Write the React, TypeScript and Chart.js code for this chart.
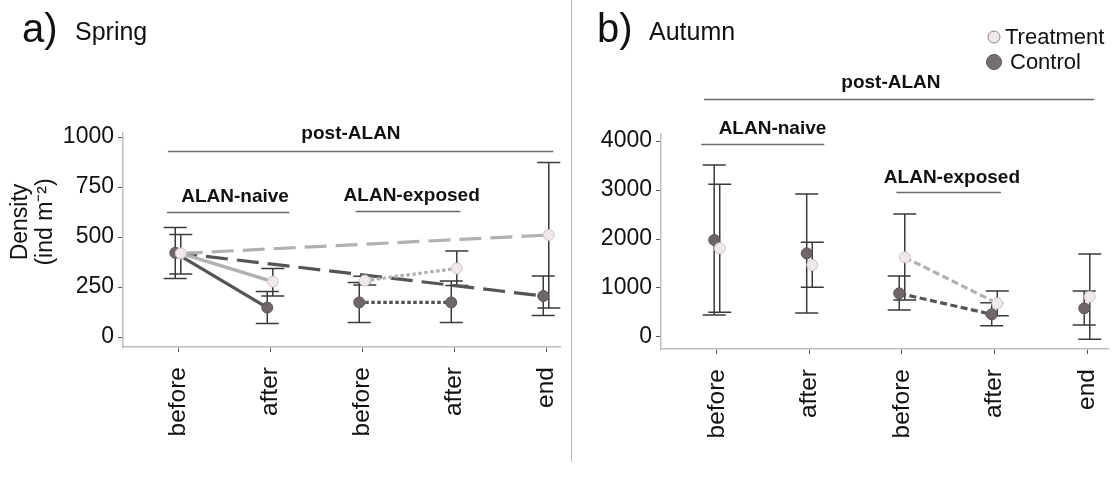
import React, { useEffect, useRef } from 'react';
import { Chart, registerables } from 'chart.js';

Chart.register(...registerables);

// ---------- data ----------
const categories = ['before', 'after', 'before', 'after', 'end'];

const springTreatMean = [418, 277, 282, 343, 510];
const springTreatLow = [315, 205, 260, 258, 145];
const springTreatHigh = [513, 343, 304, 430, 873];
const springCtrlMean = [421, 147, 173, 173, 205];
const springCtrlLow = [293, 67, 72, 72, 107];
const springCtrlHigh = [548, 227, 273, 280, 305];
const springYTicks = [0, 250, 500, 750, 1000];

const autumnTreatMean = [1810, 1469, 1626, 687, 823];
const autumnTreatLow = [504, 1014, 755, 435, -48];
const autumnTreatHigh = [3116, 1932, 2510, 939, 1694];
const autumnCtrlMean = [1980, 1707, 891, 463, 585];
const autumnCtrlLow = [449, 490, 551, 231, 245];
const autumnCtrlHigh = [3510, 2918, 1245, 700, 939];
const autumnYTicks = [0, 1000, 2000, 3000, 4000];

// connections between time points: [from, to, style]
const springLinks: [number, number, string][] = [[0, 1, 'solid'], [0, 4, 'long'], [2, 3, 'dot']];
const autumnLinks: [number, number, string][] = [[2, 3, 'dash']];

// ---------- styles ----------
const FONT = "'Liberation Sans', Arial, sans-serif";
const H = 489;
const DODGE_T = 0.03;
const DODGE_C = -0.03;
const DASH: Record<string, number[]> = { solid: [], long: [22, 9], dot: [3.5, 2.5], dash: [7, 3.5] };
const LIGHT_LINE = '#b1b1b1';
const DARK_LINE = '#555555';
const TREAT_FILL = '#f1e9e9';
const TREAT_BORDER = '#cfc4c4';
const CTRL_FILL = '#6f6767';
const CTRL_BORDER = '#5a5353';
const ERR_COLOR = '#3a3a3a';

type Annot = { text: string; tx: number; ty: number; x0: number; x1: number; ly: number };

type Panel = {
  treatMean: number[]; treatLow: number[]; treatHigh: number[];
  ctrlMean: number[]; ctrlLow: number[]; ctrlHigh: number[];
  yTicks: number[]; yMin: number; yMax: number; xMin: number; xMax: number;
  links: [number, number, string][];
  annots: Annot[];
  area: { left: number; right: number; top: number; bottom: number };
  width: number;
  extras: (ctx: CanvasRenderingContext2D) => void;
};

function drawCircle(ctx: CanvasRenderingContext2D, x: number, y: number, r: number, fill: string, stroke: string) {
  ctx.beginPath();
  ctx.arc(x, y, r, 0, Math.PI * 2);
  ctx.fillStyle = fill;
  ctx.fill();
  ctx.lineWidth = 1;
  ctx.strokeStyle = stroke;
  ctx.stroke();
}

const spring: Panel = {
  treatMean: springTreatMean, treatLow: springTreatLow, treatHigh: springTreatHigh,
  ctrlMean: springCtrlMean, ctrlLow: springCtrlLow, ctrlHigh: springCtrlHigh,
  yTicks: springYTicks, yMin: -50, yMax: 1020, xMin: -0.598, xMax: 4.152,
  links: springLinks,
  annots: [
    { text: 'post-ALAN', tx: 1.88, ty: 1015, x0: -0.11, x1: 4.08, ly: 932 },
    { text: 'ALAN-naive', tx: 0.62, ty: 702, x0: -0.12, x1: 1.21, ly: 625 },
    { text: 'ALAN-exposed', tx: 2.54, ty: 705, x0: 1.93, x1: 3.07, ly: 628 },
  ],
  area: { left: 123, right: 560, top: 133, bottom: 347 },
  width: 571,
  extras: (ctx) => {
    ctx.fillStyle = '#111';
    ctx.textAlign = 'left';
    ctx.textBaseline = 'alphabetic';
    ctx.font = `40px ${FONT}`;
    ctx.fillText('a)', 22, 42);
    ctx.font = `25px ${FONT}`;
    ctx.fillText('Spring', 75, 40);
    // y axis title
    ctx.save();
    ctx.translate(21, 222);
    ctx.rotate(-Math.PI / 2);
    ctx.textAlign = 'center';
    ctx.textBaseline = 'middle';
    ctx.font = `23px ${FONT}`;
    ctx.fillText('Density', 0, 0);
    ctx.fillText('(ind m\u207B\u00B2)', 0, 24.5);
    ctx.restore();
  },
};

const autumn: Panel = {
  treatMean: autumnTreatMean, treatLow: autumnTreatLow, treatHigh: autumnTreatHigh,
  ctrlMean: autumnCtrlMean, ctrlLow: autumnCtrlLow, ctrlHigh: autumnCtrlHigh,
  yTicks: autumnYTicks, yMin: -245, yMax: 4143, xMin: -0.605, xMax: 4.227,
  links: autumnLinks,
  annots: [
    { text: 'post-ALAN', tx: 1.88, ty: 5194, x0: -0.14, x1: 4.08, ly: 4851 },
    { text: 'ALAN-naive', tx: 0.6, ty: 4245, x0: -0.17, x1: 1.16, ly: 3933 },
    { text: 'ALAN-exposed', tx: 2.54, ty: 3245, x0: 1.94, x1: 3.07, ly: 2953 },
  ],
  area: { left: 89, right: 536, top: 134, bottom: 349 },
  width: 545,
  extras: (ctx) => {
    ctx.fillStyle = '#111';
    ctx.textAlign = 'left';
    ctx.textBaseline = 'alphabetic';
    ctx.font = `40px ${FONT}`;
    ctx.fillText('b)', 25, 42);
    ctx.font = `25px ${FONT}`;
    ctx.fillText('Autumn', 77, 40);
    // legend
    drawCircle(ctx, 422, 37, 6, TREAT_FILL, '#8a8484');
    drawCircle(ctx, 422, 62, 7.5, '#777070', '#555');
    ctx.fillStyle = '#111';
    ctx.textBaseline = 'middle';
    ctx.font = `22px ${FONT}`;
    ctx.fillText('Treatment', 433, 38);
    ctx.fillText('Control', 438, 63);
  },
};

function makeConfig(p: Panel): any {
  const datasets: any[] = [];
  // points (on top)
  datasets.push({
    label: 'Treatment',
    data: p.treatMean.map((v, i) => ({ x: i + DODGE_T, y: v })),
    pointRadius: 5.5, pointBackgroundColor: TREAT_FILL, pointBorderColor: TREAT_BORDER, pointBorderWidth: 1,
    showLine: false, order: 0,
  });
  datasets.push({
    label: 'Control',
    data: p.ctrlMean.map((v, i) => ({ x: i + DODGE_C, y: v })),
    pointRadius: 5.5, pointBackgroundColor: CTRL_FILL, pointBorderColor: CTRL_BORDER, pointBorderWidth: 1,
    showLine: false, order: 1,
  });
  // connecting lines
  p.links.forEach(([a, b, style]) => {
    datasets.push({
      label: 'ctrl-link',
      data: [{ x: a + DODGE_C, y: p.ctrlMean[a] }, { x: b + DODGE_C, y: p.ctrlMean[b] }],
      showLine: true, pointRadius: 0, borderColor: DARK_LINE, borderWidth: 3.2,
      borderDash: DASH[style], borderCapStyle: 'butt', order: 3,
    });
    datasets.push({
      label: 'treat-link',
      data: [{ x: a + DODGE_T, y: p.treatMean[a] }, { x: b + DODGE_T, y: p.treatMean[b] }],
      showLine: true, pointRadius: 0, borderColor: LIGHT_LINE, borderWidth: 3.2,
      borderDash: DASH[style], borderCapStyle: 'butt', order: 2,
    });
  });

  const overlay = {
    id: 'overlay',
    beforeDatasetsDraw(chart: any) {
      const ctx: CanvasRenderingContext2D = chart.ctx;
      const xs = chart.scales.x;
      const ys = chart.scales.y;
      ctx.save();
      ctx.strokeStyle = ERR_COLOR;
      ctx.lineWidth = 1.5;
      const series: [number[], number[], number][] = [
        [p.ctrlLow, p.ctrlHigh, DODGE_C],
        [p.treatLow, p.treatHigh, DODGE_T],
      ];
      series.forEach(([lo, hi, dodge]) => {
        lo.forEach((l, i) => {
          const x = xs.getPixelForValue(i + dodge);
          const y0 = ys.getPixelForValue(l);
          const y1 = ys.getPixelForValue(hi[i]);
          ctx.beginPath();
          ctx.moveTo(x, y0); ctx.lineTo(x, y1);
          ctx.moveTo(x - 11.5, y0); ctx.lineTo(x + 11.5, y0);
          ctx.moveTo(x - 11.5, y1); ctx.lineTo(x + 11.5, y1);
          ctx.stroke();
        });
      });
      ctx.restore();
    },
    afterDraw(chart: any) {
      const ctx: CanvasRenderingContext2D = chart.ctx;
      const xs = chart.scales.x;
      const ys = chart.scales.y;
      ctx.save();
      p.annots.forEach((a) => {
        ctx.strokeStyle = '#6a6a6a';
        ctx.lineWidth = 1.5;
        ctx.beginPath();
        const ly = Math.round(ys.getPixelForValue(a.ly)) + 0.5;
        ctx.moveTo(xs.getPixelForValue(a.x0), ly);
        ctx.lineTo(xs.getPixelForValue(a.x1), ly);
        ctx.stroke();
        ctx.fillStyle = '#111';
        ctx.font = `bold 19px ${FONT}`;
        ctx.textAlign = 'center';
        ctx.textBaseline = 'middle';
        ctx.fillText(a.text, xs.getPixelForValue(a.tx), ys.getPixelForValue(a.ty));
      });
      p.extras(ctx);
      ctx.restore();
    },
  };

  return {
    type: 'scatter',
    data: { datasets },
    options: {
      animation: false,
      responsive: false,
      devicePixelRatio: 1,
      layout: { padding: { left: 0, right: p.width - p.area.right, top: p.area.top, bottom: 0 } },
      plugins: { legend: { display: false }, tooltip: { enabled: false } },
      scales: {
        x: {
          type: 'linear', min: p.xMin, max: p.xMax,
          afterBuildTicks: (s: any) => { s.ticks = categories.map((_, i) => ({ value: i })); },
          afterFit: (s: any) => {
            s.height = H - p.area.bottom;
            s.paddingLeft = 0; s.paddingRight = 0; s.paddingTop = 0; s.paddingBottom = 0;
          },
          ticks: {
            autoSkip: false, maxRotation: 90, minRotation: 90, padding: 15, color: '#111',
            font: { size: 24.5, family: FONT },
            callback: (v: any) => categories[Math.round(v)] ?? '',
          },
          grid: { display: true, drawOnChartArea: false, drawTicks: true, tickLength: 5, color: '#555', lineWidth: 1 },
          border: { display: true, color: '#bdbdbd', width: 1.5 },
        },
        y: {
          type: 'linear', min: p.yMin, max: p.yMax,
          afterBuildTicks: (s: any) => { s.ticks = p.yTicks.map((v) => ({ value: v })); },
          afterFit: (s: any) => {
            s.width = p.area.left;
            s.paddingLeft = 0; s.paddingRight = 0; s.paddingTop = 0; s.paddingBottom = 0;
          },
          ticks: {
            padding: 4, color: '#111', font: { size: 23, family: FONT },
            callback: (v: any) => String(v),
          },
          grid: { display: true, drawOnChartArea: false, drawTicks: true, tickLength: 5, color: '#555', lineWidth: 1 },
          border: { display: true, color: '#bdbdbd', width: 1.5 },
        },
      },
    },
    plugins: [overlay],
  };
}

export default function App() {
  const leftRef = useRef<HTMLCanvasElement>(null);
  const rightRef = useRef<HTMLCanvasElement>(null);

  useEffect(() => {
    Chart.defaults.font.family = FONT;
    const c1 = new Chart(leftRef.current as HTMLCanvasElement, makeConfig(spring));
    const c2 = new Chart(rightRef.current as HTMLCanvasElement, makeConfig(autumn));
    return () => {
      c1.destroy();
      c2.destroy();
    };
  }, []);

  return (
    <div style={{ position: 'fixed', left: 0, top: 0, width: 1117, height: H, background: '#fff', overflow: 'hidden' }}>
      <canvas ref={leftRef} width={spring.width} height={H}
        style={{ position: 'absolute', left: 0, top: 0, width: spring.width, height: H }} />
      <div style={{ position: 'absolute', left: 571, top: 0, width: 1, height: 462, background: '#b3b3b3' }} />
      <canvas ref={rightRef} width={autumn.width} height={H}
        style={{ position: 'absolute', left: 572, top: 0, width: autumn.width, height: H }} />
    </div>
  );
}
